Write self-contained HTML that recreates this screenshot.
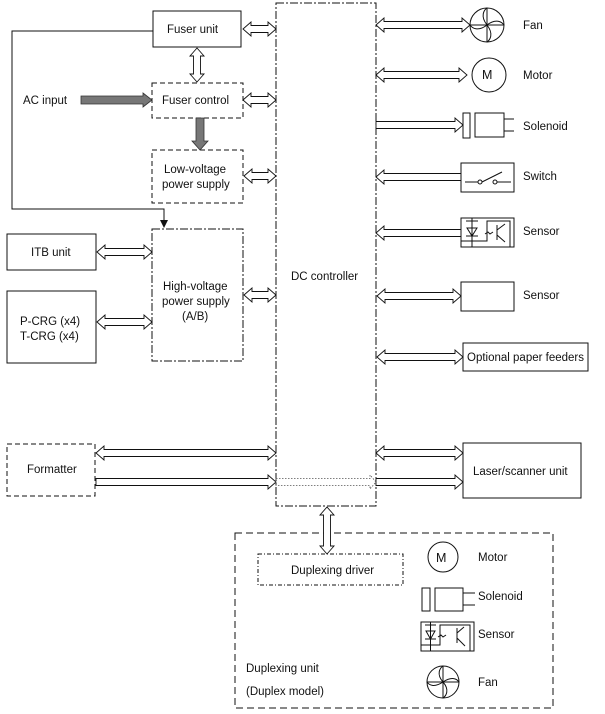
<!DOCTYPE html>
<html><head><style>
html,body{margin:0;padding:0;background:#fff;}
svg{display:block;}
text{font-family:"Liberation Sans",Arial,sans-serif;font-size:11.5px;fill:#111;}
</style></head><body>
<svg width="605" height="714" viewBox="0 0 605 714" xmlns="http://www.w3.org/2000/svg">
<g fill="none" stroke="#111" stroke-width="1">
<rect x="276" y="3" width="100" height="503" stroke-dasharray="8,2,2,2"/>
<rect x="153" y="11" width="88" height="36"/>
<rect x="152" y="83" width="91" height="35" stroke-dasharray="5,3"/>
<rect x="152" y="150" width="91" height="53" stroke-dasharray="5,3"/>
<rect x="152" y="229" width="91" height="132" stroke-dasharray="8,2,2,2"/>
<rect x="7" y="234" width="89" height="36"/>
<rect x="7" y="291" width="89" height="72"/>
<rect x="7" y="444" width="88" height="52" stroke-dasharray="5,3"/>
<rect x="463" y="443" width="118" height="55"/>
<rect x="463" y="343" width="125" height="28"/>
<rect x="235" y="533" width="318" height="175" stroke-dasharray="7,4"/>
<rect x="258" y="554" width="145" height="31" stroke-dasharray="4,2,1,2"/>
<polyline points="153,31 12,31 12,209 164,209 164,222"/>
</g>
<polygon points="160,220 168,220 164,228" fill="#111"/>
<polygon points="81,96 143,96 143,93 152,100 143,107 143,104 81,104" fill="#777" stroke="#333" stroke-width="0.8"/>
<polygon points="196,118 204,118 204,141 208,141 200,150 192,141 196,141" fill="#777" stroke="#333" stroke-width="0.8"/>
<g fill="#fff" stroke="#111" stroke-width="0.9">
<polygon points="243,29 251,22 251,25.5 268,25.5 268,22 276,29 268,36 268,32.5 251,32.5 251,36"/>
<polygon points="243,100 251,93 251,96.5 268,96.5 268,93 276,100 268,107 268,103.5 251,103.5 251,107"/>
<polygon points="244,176 252,169 252,172.5 268,172.5 268,169 276,176 268,183 268,179.5 252,179.5 252,183"/>
<polygon points="244,295 252,288 252,291.5 268,291.5 268,288 276,295 268,302 268,298.5 252,298.5 252,302"/>
<polygon points="97,252 105,245 105,248.5 144,248.5 144,245 152,252 144,259 144,255.5 105,255.5 105,259"/>
<polygon points="97,322 105,315 105,318.5 144,318.5 144,315 152,322 144,329 144,325.5 105,325.5 105,329"/>
<polygon points="376,25 384,18 384,21.5 462,21.5 462,18 470,25 462,32 462,28.5 384,28.5 384,32"/>
<polygon points="376,75 384,68 384,71.5 459,71.5 459,68 467,75 459,82 459,78.5 384,78.5 384,82"/>
<polygon points="376,121.5 455,121.5 455,118 463,125 455,132 455,128.5 376,128.5"/>
<polygon points="461,173.5 384,173.5 384,170 376,177 384,184 384,180.5 461,180.5"/>
<polygon points="461,229.5 384,229.5 384,226 376,233 384,240 384,236.5 461,236.5"/>
<polygon points="377,296 385,289 385,292.5 453,292.5 453,289 461,296 453,303 453,299.5 385,299.5 385,303"/>
<polygon points="377,357 385,350 385,353.5 455,353.5 455,350 463,357 455,364 455,360.5 385,360.5 385,364"/>
<polygon points="96,453 104,446 104,449.5 268,449.5 268,446 276,453 268,460 268,456.5 104,456.5 104,460"/>
<polygon points="96,478.5 268,478.5 268,475 276,482 268,489 268,485.5 96,485.5"/>
<polygon points="376,453 384,446 384,449.5 455,449.5 455,446 463,453 455,460 455,456.5 384,456.5 384,460"/>
<polygon points="376,478.5 455,478.5 455,475 463,482 455,489 455,485.5 376,485.5"/>
<polygon points="197,48 204,56 200.5,56 200.5,74 204,74 197,82 190,74 193.5,74 193.5,56 190,56"/>
<polygon points="327,507 334,515 330.5,515 330.5,546 334,546 327,554 320,546 323.5,546 323.5,515 320,515"/>
</g>
<polygon points="276,478.5 370,478.5 370,475 376,482 370,489 370,485.5 276,485.5" fill="none" stroke="#555" stroke-width="0.8" stroke-dasharray="1.5,1.5"/>
<g fill="none" stroke="#111" stroke-width="1">
<circle cx="487" cy="25" r="17"/>
<path d="M470,25 H504 M487,8 V42 M487,25 C480,16 484,10 487,8 M487,25 C496,18 502,22 504,25 M487,25 C494,34 490,40 487,42 M487,25 C478,32 472,28 470,25"/>
<circle cx="489" cy="75" r="17"/>
<rect x="463" y="113" width="7" height="25"/>
<rect x="475" y="113" width="29" height="24"/>
<path d="M504,119 H514 M504,131 H514"/>
<rect x="461" y="163" width="53" height="29"/>
<path d="M465,182 H478 M482,182 L502,172 M497,182 H511"/>
<circle cx="480" cy="182" r="2"/><circle cx="495" cy="182" r="2"/>
<rect x="461" y="218" width="53" height="29"/>
<path d="M461,241 H487 V221 H510 V247 M466,221 H478 M467,228 H477 L472,236 Z M466,236 H478 M472,218 V247 M485,234 L488,232 L490,234 L493,232 M497,225 V240 M497,230 L505,224 M497,235 L505,242"/>
<rect x="461" y="282" width="53" height="29"/>
<circle cx="443" cy="557" r="15"/>
<rect x="422" y="588" width="8" height="23"/>
<rect x="435" y="588" width="28" height="23"/>
<path d="M463,593 H475 M463,605 H475"/>
<rect x="421" y="622" width="53" height="29"/>
<path d="M421,645 H440 V625 H470 V651 M425,625 H436 M426,631 H435 L430.5,639 Z M425,639 H436 M430.5,622 V651 M438,637 L441,635 L443,637 L446,635 M457,628 V643 M457,633 L464,627 M457,638 L465,646"/>
<circle cx="443" cy="682" r="16"/>
<path d="M427,682 H459 M443,666 V698 M443,682 C436,674 440,668 443,666 M443,682 C452,676 457,679 459,682 M443,682 C450,690 446,696 443,698 M443,682 C434,688 429,685 427,682"/>
</g>
<text x="167" y="33">Fuser unit</text>
<text x="162" y="104">Fuser control</text>
<text x="164" y="173">Low-voltage</text>
<text x="162" y="188">power supply</text>
<text x="163" y="290">High-voltage</text>
<text x="162" y="305">power supply</text>
<text x="182" y="320">(A/B)</text>
<text x="23" y="104">AC input</text>
<text x="31" y="256">ITB unit</text>
<text x="20" y="325">P-CRG (x4)</text>
<text x="20" y="340">T-CRG (x4)</text>
<text x="27" y="473">Formatter</text>
<text x="291" y="280">DC controller</text>
<text x="523" y="29">Fan</text>
<text x="523" y="79">Motor</text>
<text x="523" y="130">Solenoid</text>
<text x="523" y="180">Switch</text>
<text x="523" y="235">Sensor</text>
<text x="523" y="299">Sensor</text>
<text x="467" y="361">Optional paper feeders</text>
<text x="473" y="475">Laser/scanner unit</text>
<text x="291" y="574">Duplexing driver</text>
<text x="436" y="562" style="font-size:12.5px">M</text>
<text x="482" y="79" style="font-size:12.5px">M</text>
<text x="478" y="561">Motor</text>
<text x="478" y="600">Solenoid</text>
<text x="478" y="638">Sensor</text>
<text x="478" y="686">Fan</text>
<text x="246" y="672">Duplexing unit</text>
<text x="246" y="695">(Duplex model)</text>
</svg>
</body></html>
